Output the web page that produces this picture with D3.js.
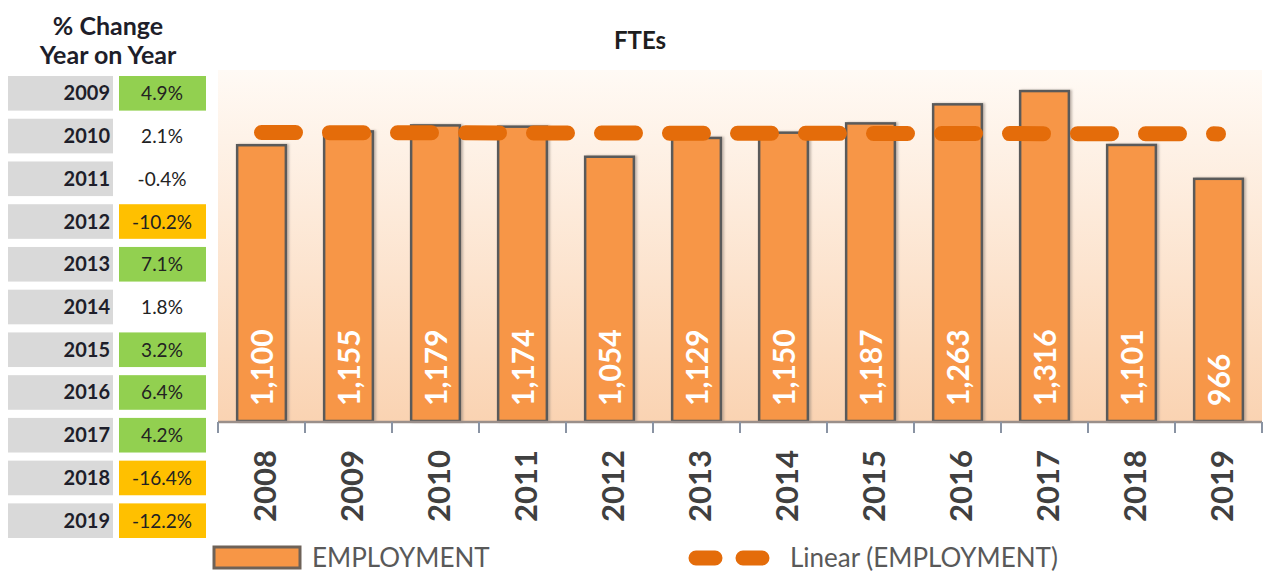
<!DOCTYPE html>
<html>
<head>
<meta charset="utf-8">
<script src="https://cdn.jsdelivr.net/npm/d3@7"></script>
<style>
  body { margin: 0; background: #fff; }
  svg { display: block; font-family: Lato, "Open Sans", sans-serif; }
</style>
</head>
<body>
<div class="chart"></div>
<script>
// data
let years = ['2008','2009','2010','2011','2012','2013','2014','2015','2016','2017','2018','2019'];
let employment = [1100, 1155, 1179, 1174, 1054, 1129, 1150, 1187, 1263, 1316, 1101, 966];
let changeYears = ['2009','2010','2011','2012','2013','2014','2015','2016','2017','2018','2019'];
let changePct = [4.9, 2.1, -0.4, -10.2, 7.1, 1.8, 3.2, 6.4, 4.2, -16.4, -12.2];

let width = 1267, height = 575;
let plot = { left: 218, right: 1262, top: 70, bottom: 421 };

let svg = d3.select('div.chart').append('svg')
  .attr('width', width)
  .attr('height', height);

let defs = svg.append('defs');
let grad = defs.append('linearGradient')
  .attr('id', 'bg')
  .attr('x1', 0).attr('y1', 0).attr('x2', 0).attr('y2', 1);
grad.append('stop').attr('offset', '0%').attr('stop-color', '#fffaf5');
grad.append('stop').attr('offset', '100%').attr('stop-color', '#fad3b2');

let shadow = defs.append('filter').attr('id', 'shadow')
  .attr('x', '-20%').attr('y', '-20%').attr('width', '140%').attr('height', '140%');
shadow.append('feDropShadow')
  .attr('dx', 2).attr('dy', 0).attr('stdDeviation', 1)
  .attr('flood-color', '#8a7e76').attr('flood-opacity', 0.5);

// plot background
svg.append('rect')
  .attr('x', plot.left)
  .attr('y', plot.top)
  .attr('width', plot.right - plot.left)
  .attr('height', plot.bottom - plot.top)
  .attr('fill', 'url(#bg)');

let x = d3.scaleBand()
  .domain(years)
  .range([plot.left, plot.right])
  .paddingInner(0.44)
  .paddingOuter(0.22);

let y = d3.scaleLinear()
  .domain([0, 1400])
  .range([plot.bottom, plot.top]);

// bars
svg.append('g')
  .selectAll('rect')
  .data(employment)
  .enter().append('rect')
  .attr('x', (d, i) => x(years[i]))
  .attr('y', (d) => y(d))
  .attr('width', x.bandwidth())
  .attr('height', (d) => y(0) - y(d))
  .attr('fill', '#f79646')
  .attr('stroke', '#5a5a5a')
  .attr('stroke-width', 2.5)
  .attr('filter', 'url(#shadow)');

// bar labels (inside base, rotated)
svg.append('g')
  .selectAll('text')
  .data(employment)
  .enter().append('text')
  .attr('transform', (d, i) => 'translate(' + (x(years[i]) + x.bandwidth() / 2 + 11) + ',' + (plot.bottom - 15) + ') rotate(-90)')
  .attr('text-anchor', 'start')
  .attr('font-size', '30px')
  .attr('font-weight', 'bold')
  .attr('fill', '#fff')
  .text((d) => d3.format(',')(d));

// linear trend
let mx = d3.mean(employment, (d, i) => i);
let my = d3.mean(employment);
let sxy = d3.sum(employment, (d, i) => (i - mx) * (d - my));
let sxx = d3.sum(employment, (d, i) => (i - mx) * (i - mx));
let slope = sxy / sxx;
let trend = employment.map((d, i) => ({ year: years[i], value: my + slope * (i - mx) }));

svg.append('path')
  .datum(trend)
  .attr('d', d3.line()
    .x((d) => x(d.year) + x.bandwidth() / 2)
    .y((d) => y(d.value)))
  .attr('fill', 'none')
  .attr('stroke', '#e46c0a')
  .attr('stroke-width', 15)
  .attr('stroke-linecap', 'round')
  .attr('stroke-dasharray', '34,34');

// x axis
let axis = svg.append('g');
axis.append('line')
  .attr('x1', plot.left).attr('x2', plot.right)
  .attr('y1', plot.bottom + 1).attr('y2', plot.bottom + 1)
  .attr('stroke', '#9a8f8a')
  .attr('stroke-width', 2.5);

let tickXs = years.map((d) => x(d) - x.step() * x.paddingInner() / 2);
tickXs.push(plot.right);
axis.selectAll('line.tick')
  .data(tickXs)
  .enter().append('line')
  .attr('class', 'tick')
  .attr('x1', (d) => d).attr('x2', (d) => d)
  .attr('y1', plot.bottom + 1).attr('y2', plot.bottom + 12)
  .attr('stroke', '#8a93a3')
  .attr('stroke-width', 2);

axis.selectAll('text')
  .data(years)
  .enter().append('text')
  .attr('transform', (d) => 'translate(' + (x(d) + x.bandwidth() / 2 + 14) + ',' + 450 + ') rotate(-90)')
  .attr('text-anchor', 'end')
  .attr('font-size', '31px')
  .attr('font-weight', 'bold')
  .attr('fill', '#404040')
  .text((d) => d);

// title
svg.append('text')
  .attr('x', 640).attr('y', 49)
  .attr('text-anchor', 'middle')
  .attr('font-size', '24px')
  .attr('font-weight', 'bold')
  .attr('fill', '#1e1e1e')
  .text('FTEs');

// % change table
let table = svg.append('g');
table.append('text')
  .attr('x', 108).attr('y', 35)
  .attr('text-anchor', 'middle')
  .attr('font-size', '25px')
  .attr('font-weight', 'bold')
  .attr('fill', '#1e1e2a')
  .text('% Change');
table.append('text')
  .attr('x', 108).attr('y', 64)
  .attr('text-anchor', 'middle')
  .attr('font-size', '25px')
  .attr('font-weight', 'bold')
  .attr('fill', '#1e1e2a')
  .text('Year on Year');

let rowY = d3.scaleBand()
  .domain(changeYears)
  .range([76, 76 + 42 * changeYears.length])
  .paddingInner(0.19);

let cellColor = function(v) {
  if (v >= 3) return '#92d050';
  if (v <= -3) return '#ffc000';
  return 'none';
};

let rows = table.selectAll('g.row')
  .data(changeYears)
  .enter().append('g')
  .attr('class', 'row')
  .attr('transform', (d) => 'translate(0,' + rowY(d) + ')');

rows.append('rect')
  .attr('x', 8).attr('y', 0)
  .attr('width', 105).attr('height', rowY.bandwidth())
  .attr('fill', '#d9d9d9');

rows.append('text')
  .attr('x', 110).attr('y', rowY.bandwidth() / 2 + 7)
  .attr('text-anchor', 'end')
  .attr('font-size', '20px')
  .attr('font-weight', 'bold')
  .attr('fill', '#1e1e2a')
  .text((d) => d);

rows.append('rect')
  .attr('x', 119).attr('y', 0)
  .attr('width', 87).attr('height', rowY.bandwidth())
  .attr('fill', (d, i) => cellColor(changePct[i]));

rows.append('text')
  .attr('x', 162).attr('y', rowY.bandwidth() / 2 + 7)
  .attr('text-anchor', 'middle')
  .attr('font-size', '19px')
  .attr('fill', '#222')
  .text((d, i) => changePct[i].toFixed(1) + '%');

// legend
let legend = svg.append('g');
legend.append('rect')
  .attr('x', 214).attr('y', 547)
  .attr('width', 86).attr('height', 21)
  .attr('fill', '#f79646')
  .attr('stroke', '#6e6258')
  .attr('stroke-width', 3);
legend.append('text')
  .attr('x', 312).attr('y', 567)
  .attr('font-size', '26px')
  .attr('fill', '#595959')
  .text('EMPLOYMENT');

legend.append('line')
  .attr('x1', 696).attr('x2', 762)
  .attr('y1', 558).attr('y2', 558)
  .attr('stroke', '#e46c0a')
  .attr('stroke-width', 15)
  .attr('stroke-linecap', 'round')
  .attr('stroke-dasharray', '19,28');
legend.append('text')
  .attr('x', 790).attr('y', 567)
  .attr('font-size', '26px')
  .attr('fill', '#595959')
  .text('Linear (EMPLOYMENT)');
</script>
</body>
</html>
